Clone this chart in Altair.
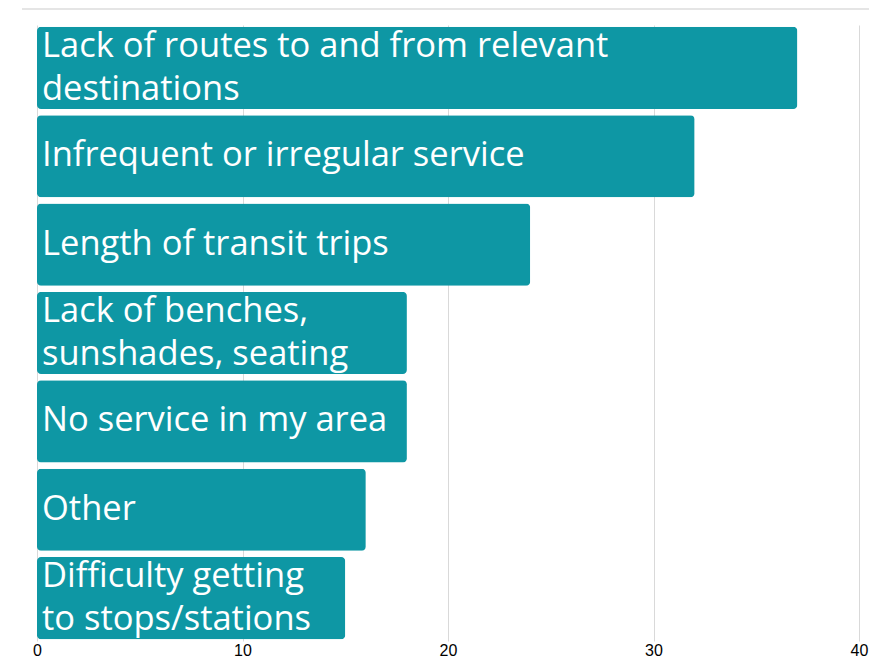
import altair as alt
import pandas as pd

categories = [
    "Lack of routes to and from relevant\ndestinations",
    "Infrequent or irregular service",
    "Length of transit trips",
    "Lack of benches,\nsunshades, seating",
    "No service in my area",
    "Other",
    "Difficulty getting\nto stops/stations",
]
values = [37, 32, 24, 18, 18, 16, 15]
x_ticks = [0, 10, 20, 30, 40]

df = pd.DataFrame({"cat": categories, "val": values,
                   "lines": [c.count("\n") + 1 for c in categories]})

W, H = 822, 616
PL, PR, PT, PB = 29, 10, 17, 20
teal = "#0E97A4"

y_enc = alt.Y("cat:N", sort=categories, axis=None,
              scale=alt.Scale(paddingInner=0.07, paddingOuter=0.02))

bars = alt.Chart(df).mark_bar(color=teal, cornerRadius=4).encode(
    x=alt.X("val:Q", scale=alt.Scale(domain=[0, 40], nice=False),
            axis=alt.Axis(values=x_ticks, title=None, grid=True, gridColor="#d9d9d9",
                          gridWidth=1, domain=False, ticks=False, labelFontSize=16,
                          labelFont="Liberation Sans", labelColor="#000000",
                          labelPadding=1, labelFlush=False)),
    y=y_enc,
)

text_style = dict(align="left", baseline="middle", dx=5, color="white",
                  font="Open Sans", fontSize=34.5, lineBreak="\n", lineHeight=43)

labels1 = alt.Chart(df).transform_filter(alt.datum.lines == 1).mark_text(
    **text_style
).encode(x=alt.datum(0), y=y_enc, text="cat:N")

labels2 = alt.Chart(df).transform_filter(alt.datum.lines == 2).mark_text(
    dy=-21, **text_style
).encode(x=alt.datum(0), y=y_enc, text="cat:N")

topline = alt.Chart(pd.DataFrame({"a": [0]})).mark_rule(color="#dddddd", strokeWidth=1.5).encode(
    x=alt.value(-15), x2=alt.value(W + PR), y=alt.value(-PT + 1)
)

chart = alt.layer(bars, labels1, labels2, topline).properties(
    width=W, height=H,
    autosize=alt.AutoSizeParams(type="none"),
    padding={"left": PL, "top": PT, "right": PR, "bottom": PB},
).configure_view(stroke=None)

chart.save("out.html", embed_options={"renderer": "svg", "actions": False})
